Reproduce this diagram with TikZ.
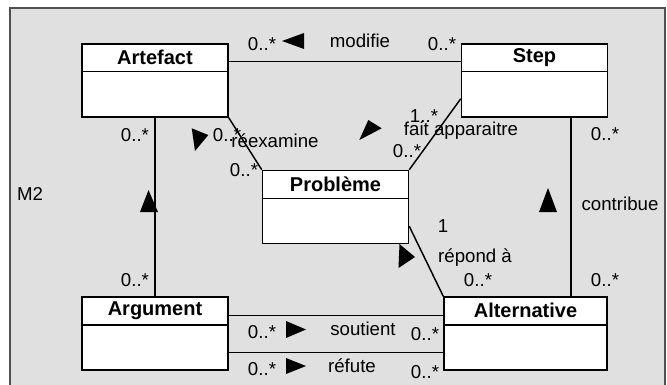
\documentclass[tikz,border=0pt]{standalone}
\usepackage{fontspec}
\setmainfont{Liberation Sans}
\usetikzlibrary{calc}
\definecolor{pkgfill}{RGB}{224,224,224}
\definecolor{pkgline}{RGB}{80,80,80}
\tikzset{
  classbox/.style={draw=black,fill=white,line width=1.1pt,inner sep=0pt,minimum width=109.5pt,minimum height=54.75pt},
  classname/.style={inner sep=0pt,font=\fontsize{15}{17}\selectfont\bfseries},
  lbl/.style={inner sep=0pt,font=\fontsize{14}{16}\selectfont},
  assoc/.style={draw=black,line width=1.1pt},
  navig/.style={fill=black}
}
\begin{document}
\begin{tikzpicture}[x=0.75pt,y=-0.75pt]
\clip (0,0) rectangle (667,385);
% package M2
\draw[pkgline,fill=pkgfill,line width=1.5pt] (10,8) rectangle (665,395);
\node[lbl] (pkgname) at (30,194) {M2};
% classes
\node[classbox] (artefact) at (155,80.5) {};
\node[classbox] (step) at (534.5,80.5) {};
\node[classbox] (probleme) at (335.5,207) {};
\node[classbox] (argument) at (155,333.5) {};
\node[classbox,minimum width=122.25pt] (alternative) at (525.5,333.5) {};
\foreach \c/\t in {artefact/Artefact,step/Step,probleme/Probl\`eme,argument/Argument,alternative/Alternative}{
  \draw[assoc] ($(\c.north west)+(0,28.5)$) -- ($(\c.north east)+(0,28.5)$);
  \node[classname] (\c name) at ($(\c.north)+(0,14.5)$) {\t};
}
% associations
\draw[assoc] ($(artefact.north east)+(0,18)$) -- ($(step.north west)+(0,18)$);
\draw[assoc] (artefact.south east) -- (probleme.north west);
\draw[assoc] ($(step.south west)+(0,-19)$) -- (probleme.north east);
\draw[assoc] ($(step.south)+(36.5,0)$) coordinate (contr) -- (contr |- alternative.north);
\draw[assoc] (artefact.south) -- (argument.north);
\draw[assoc] ($(probleme.south east)+(0,-18)$) -- (alternative.north west);
\draw[assoc] ($(argument.north east)+(0,19)$) coordinate (sout) -- (sout -| alternative.west);
\draw[assoc] ($(argument.south east)+(0,-18)$) coordinate (refu) -- (refu -| alternative.west);
% modifie
\node[lbl] (modA) at (262,44) {0..*};
\node[lbl] (modname) at (360,41) {modifie};
\node[lbl] (modS) at (442,44) {0..*};
\fill[navig] (282,41) -- (304,33) -- (304,49) -- cycle;
% reexamine
\node[lbl] (reexA) at (227,135) {0..*};
\node[lbl] (reexname) at (275,141) {réexamine};
\node[lbl] (reexP) at (244,170) {0..*};
\fill[navig] (191.7,128.3) -- (208.3,135) -- (195,151) -- cycle;
% fait apparaitre
\node[lbl] (faitS) at (424,116) {1..*};
\node[lbl] (faitname) at (461,131) {fait apparaitre};
\node[lbl] (faitP) at (407,151) {0..*};
\fill[navig] (368.3,120) -- (381.7,128.3) -- (359.3,140) -- cycle;
% contribue
\node[lbl] (contrS) at (605,134) {0..*};
\node[lbl] (contrname) at (620,204) {contribue};
\node[lbl] (contrA) at (605,280) {0..*};
\fill[navig] (548,188) -- (557,212) -- (539,212) -- cycle;
% artefact - argument
\node[lbl] (argA) at (135,135) {0..*};
\node[lbl] (argG) at (135,280) {0..*};
\fill[navig] (148.5,190) -- (158,212) -- (140,212) -- cycle;
% repond a
\node[lbl] (repP) at (443,226) {1};
\node[lbl] (repname) at (475,258) {répond à};
\node[lbl] (repA) at (478,280) {0..*};
\fill[navig] (399.5,244) -- (415,257) -- (398.5,268) -- cycle;
% soutient
\node[lbl] (soutG) at (262,332) {0..*};
\node[lbl] (soutname) at (363,329) {soutient};
\node[lbl] (soutA) at (425,334) {0..*};
\fill[navig] (286,321) -- (306,329.5) -- (286,338) -- cycle;
% refute
\node[lbl] (refuG) at (262,369) {0..*};
\node[lbl] (refuname) at (352,366) {réfute};
\node[lbl] (refuA) at (425,372) {0..*};
\fill[navig] (286,358) -- (306,366) -- (286,374) -- cycle;
\end{tikzpicture}
\end{document}
